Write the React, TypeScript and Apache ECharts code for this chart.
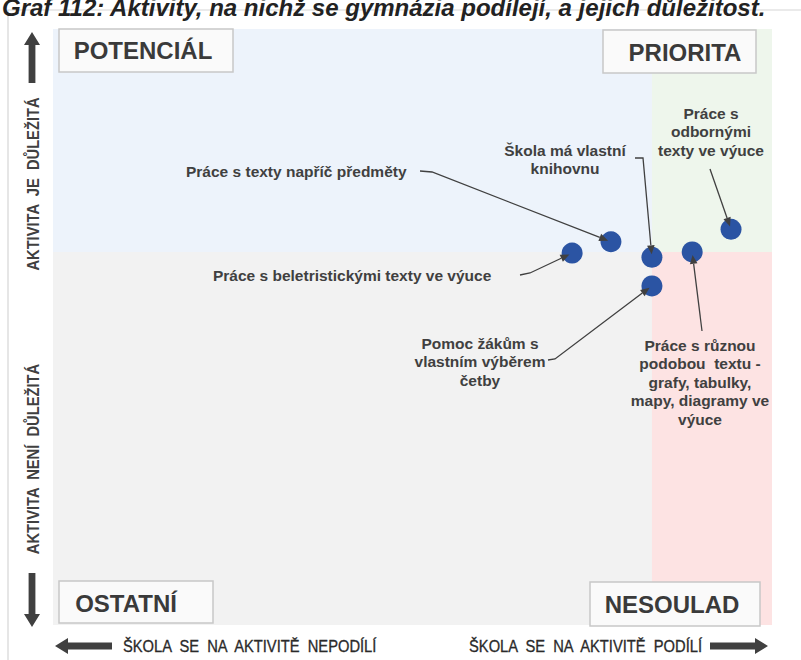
import { useEffect, useRef } from "react";
import * as echarts from "echarts";

// ---------- data ----------
const TITLE = "Graf 112: Aktivity, na nichž se gymnázia podílejí, a jejich důležitost.";
const ACTIVITIES = [
  "Práce s beletristickými texty ve výuce",
  "Práce s texty napříč předměty",
  "Škola má vlastní knihovnu",
  "Práce s různou podobou textu - grafy, tabulky, mapy, diagramy ve výuce",
  "Práce s odbornými texty ve výuce",
  "Pomoc žákům s vlastním výběrem četby",
];
const PARTICIPATION = [72.2, 77.6, 83.3, 88.9, 94.3, 83.3];
const IMPORTANCE = [62.4, 64.3, 61.7, 62.6, 66.4, 56.9];
const X_SPLIT = 83.3;
const Y_SPLIT = 62.6;
const AXIS_MIN = 0;
const AXIS_MAX = 100;
const QUADRANTS = ["POTENCIÁL", "PRIORITA", "OSTATNÍ", "NESOULAD"];
const Y_LABELS = ["AKTIVITA  JE  DŮLEŽITÁ", "AKTIVITA  NENÍ  DŮLEŽITÁ"];
const X_LABELS = ["ŠKOLA  SE  NA  AKTIVITĚ  NEPODÍLÍ", "ŠKOLA  SE  NA  AKTIVITĚ  PODÍLÍ"];
const LABEL_TEXTS = [
  "Práce s beletristickými texty ve výuce",
  "Práce s texty napříč předměty",
  "Škola má vlastní\nknihovnu",
  "Práce s různou\npodobou  textu -\ngrafy, tabulky,\nmapy, diagramy ve\nvýuce",
  "Práce s\nodbornými\ntexty ve výuce",
  "Pomoc žákům s\nvlastním výběrem\nčetby",
];

// ---------- layout (pixels) ----------
const FONT = "'Liberation Sans', Arial, sans-serif";
const DARK = "#404040";
const LABEL_LAYOUT = [
  { x: 213, y: 275, align: "left", vAlign: "middle", path: [[520, 275], [530, 273]] },
  { x: 186, y: 171, align: "left", vAlign: "middle", path: [[420, 171], [432, 172]] },
  { x: 565, y: 141, align: "center", vAlign: "top", path: [[635, 158], [643, 158]] },
  { x: 700, y: 336, align: "center", vAlign: "top", path: [[702, 331]] },
  { x: 711, y: 104, align: "center", vAlign: "top", path: [[710, 169]] },
  { x: 480, y: 334, align: "center", vAlign: "top", path: [[548, 360], [555, 359]] },
];
const QUAD_BOXES = [
  { x: 59, y: 29, w: 174, h: 43, tx: 143, ty: 50 },
  { x: 603, y: 30, w: 153, h: 43, tx: 685, ty: 52 },
  { x: 59, y: 581, w: 154, h: 42, tx: 126, ty: 603 },
  { x: 590, y: 582, w: 170, h: 44, tx: 672, ty: 604 },
];

function arrowParts(pts: number[][], tip: number[], id: string) {
  const prev = pts[pts.length - 1];
  const dx = tip[0] - prev[0];
  const dy = tip[1] - prev[1];
  const len = Math.hypot(dx, dy);
  const ux = dx / len;
  const uy = dy / len;
  const hl = 9;
  const hw = 3.8;
  const base = [tip[0] - ux * hl, tip[1] - uy * hl];
  return [
    {
      type: "polyline",
      id: id + "l",
      z: 10,
      shape: { points: [...pts, base] },
      style: { stroke: DARK, lineWidth: 1.3, fill: "none" },
      silent: true,
    },
    {
      type: "polygon",
      id: id + "h",
      z: 10,
      shape: {
        points: [
          tip,
          [base[0] - uy * hw, base[1] + ux * hw],
          [base[0] + uy * hw, base[1] - ux * hw],
        ],
      },
      style: { fill: DARK },
      silent: true,
    },
  ];
}

function bigArrow(tip: number[], dir: number[], total: number, id: string) {
  const [x, y] = tip;
  const [ux, uy] = dir;
  const px = -uy;
  const py = ux;
  const headL = 13;
  const headW = 8;
  const shaftW = 3.4;
  const p = (a: number, b: number) => [x + ux * a + px * b, y + uy * a + py * b];
  return {
    type: "polygon",
    id,
    shape: {
      points: [
        p(0, 0),
        p(headL, headW),
        p(headL, shaftW),
        p(total, shaftW),
        p(total, -shaftW),
        p(headL, -shaftW),
        p(headL, -headW),
      ],
    },
    style: { fill: DARK },
    silent: true,
  };
}

export default function App() {
  const ref = useRef<HTMLDivElement>(null);
  useEffect(() => {
    if (!ref.current) return;
    const chart = echarts.init(ref.current, undefined, { renderer: "svg" });
    const points = PARTICIPATION.map((x, i) => ({ value: [x, IMPORTANCE[i]], name: ACTIVITIES[i] }));
    chart.setOption({
      animation: false,
      backgroundColor: "#ffffff",
      grid: { left: 53, top: 29, right: 29, bottom: 35 },
      xAxis: {
        type: "value",
        min: AXIS_MIN,
        max: AXIS_MAX,
        axisLine: { show: false },
        axisTick: { show: false },
        axisLabel: { show: false },
        splitLine: { show: false },
      },
      yAxis: {
        type: "value",
        min: AXIS_MIN,
        max: AXIS_MAX,
        axisLine: { show: false },
        axisTick: { show: false },
        axisLabel: { show: false },
        splitLine: { show: false },
      },
      series: [
        {
          type: "scatter",
          symbolSize: 21,
          itemStyle: { color: "#2b54a3", opacity: 1 },
          data: points,
          z: 5,
          markArea: {
            silent: true,
            data: [
              [{ xAxis: AXIS_MIN, yAxis: Y_SPLIT, itemStyle: { color: "#edf3fb" } }, { xAxis: X_SPLIT, yAxis: AXIS_MAX }],
              [{ xAxis: X_SPLIT, yAxis: Y_SPLIT, itemStyle: { color: "#eef6ec" } }, { xAxis: AXIS_MAX, yAxis: AXIS_MAX }],
              [{ xAxis: AXIS_MIN, yAxis: AXIS_MIN, itemStyle: { color: "#f2f2f2" } }, { xAxis: X_SPLIT, yAxis: Y_SPLIT }],
              [{ xAxis: X_SPLIT, yAxis: AXIS_MIN, itemStyle: { color: "#fde3e3" } }, { xAxis: AXIS_MAX, yAxis: Y_SPLIT }],
            ],
          },
        },
      ],
    });

    const graphics: any[] = [];
    // frame
    graphics.push({
      type: "polyline",
      id: "frame",
      shape: { points: [[8, 660], [8, 10], [801, 10]] },
      style: { stroke: "#d6d6d6", lineWidth: 1.2, fill: "none" },
      silent: true,
    });
    // title (cut off at top like the reference)
    graphics.push({
      type: "text",
      id: "title",
      x: 2,
      y: 7,
      style: {
        text: TITLE,
        font: `italic bold 24px ${FONT}`,
        fill: "#222",
        align: "left",
        verticalAlign: "middle",
      },
    });
    // quadrant boxes
    QUAD_BOXES.forEach((b, i) => {
      graphics.push({
        type: "rect",
        id: "qb" + i,
        z: 20,
        shape: { x: b.x, y: b.y, width: b.w, height: b.h },
        style: { fill: "#fafafa", stroke: "#c8c8c8", lineWidth: 1.5 },
        silent: true,
      });
      graphics.push({
        type: "text",
        id: "qt" + i,
        z: 21,
        x: b.tx,
        y: b.ty,
        style: {
          text: QUADRANTS[i],
          font: `bold 24px ${FONT}`,
          fill: "#3a3a3a",
          align: "center",
          verticalAlign: "middle",
        },
      });
    });
    // big arrows
    graphics.push(bigArrow([32, 32], [0, 1], 51, "au"));
    graphics.push(bigArrow([32, 627], [0, -1], 54, "ad"));
    graphics.push(bigArrow([55, 646], [1, 0], 57, "al"));
    graphics.push(bigArrow([768, 646], [-1, 0], 58, "ar"));
    // axis texts
    [184, 459].forEach((cy, i) => {
      graphics.push({
        type: "text",
        id: "yl" + i,
        x: 33,
        y: cy,
        rotation: Math.PI / 2,
        scaleX: 0.92,
        style: {
          text: Y_LABELS[i],
          font: `bold 16px ${FONT}`,
          fill: DARK,
          align: "center",
          verticalAlign: "middle",
        },
      });
    });
    graphics.push({
      type: "text",
      id: "xl0",
      x: 123,
      y: 646,
      scaleX: 0.92,
      style: { text: X_LABELS[0], font: `16px ${FONT}`, fill: "#2a2a2a", align: "left", verticalAlign: "middle", stroke: "#2a2a2a", lineWidth: 0.3 },
    });
    graphics.push({
      type: "text",
      id: "xl1",
      x: 702,
      y: 646,
      scaleX: 0.92,
      style: { text: X_LABELS[1], font: `16px ${FONT}`, fill: "#2a2a2a", align: "right", verticalAlign: "middle", stroke: "#2a2a2a", lineWidth: 0.3 },
    });
    // annotations
    LABEL_LAYOUT.forEach((l, i) => {
      graphics.push({
        type: "text",
        id: "lt" + i,
        z: 10,
        x: l.x,
        y: l.y,
        style: {
          text: LABEL_TEXTS[i],
          font: `bold 15.5px ${FONT}`,
          fill: DARK,
          align: l.align,
          verticalAlign: l.vAlign,
          lineHeight: 18.5,
        },
      });
      const c = chart.convertToPixel({ gridIndex: 0 }, [PARTICIPATION[i], IMPORTANCE[i]]) as number[];
      const prev = l.path[l.path.length - 1];
      const dx = c[0] - prev[0];
      const dy = c[1] - prev[1];
      const len = Math.hypot(dx, dy);
      const tip = [c[0] - (dx / len) * 3, c[1] - (dy / len) * 3];
      graphics.push(...arrowParts(l.path, tip, "ar" + i));
    });

    chart.setOption({ graphic: graphics });
    return () => chart.dispose();
  }, []);
  return <div ref={ref} style={{ position: "absolute", left: 0, top: 0, width: 801, height: 660 }} />;
}
